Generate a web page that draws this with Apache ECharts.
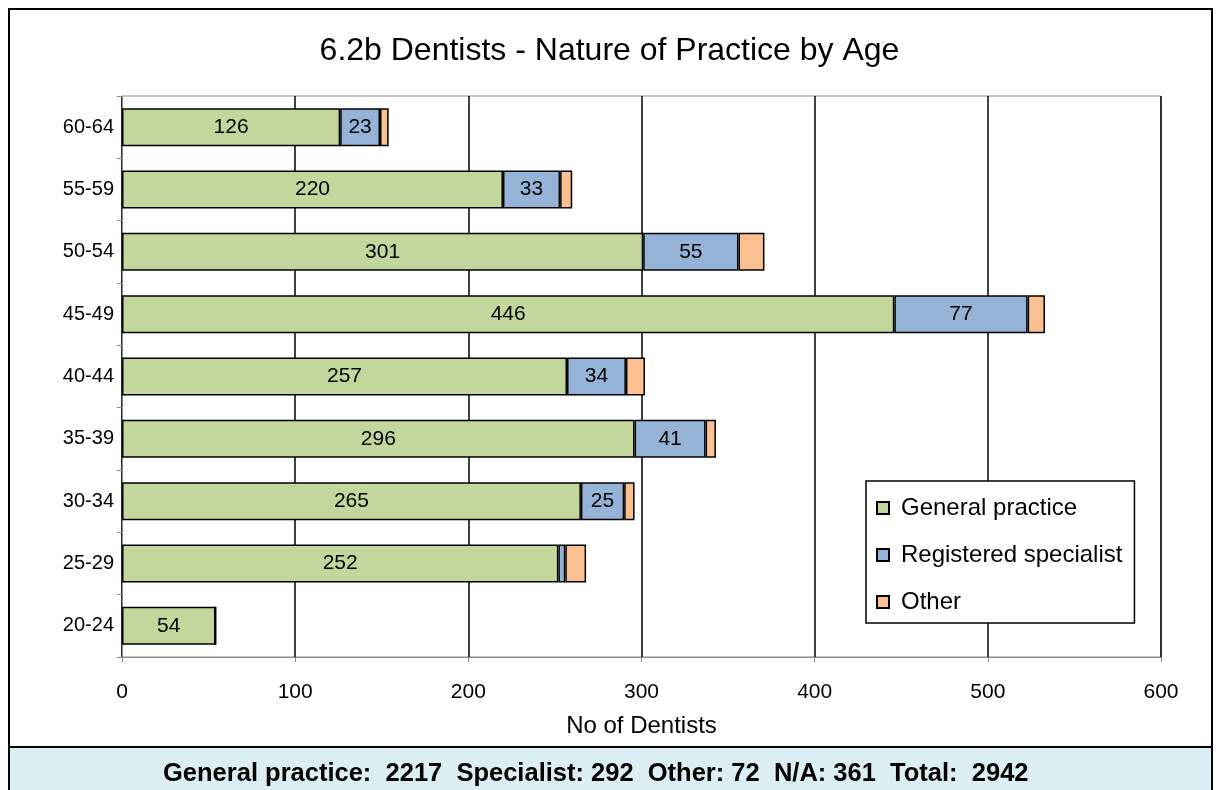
<!DOCTYPE html>
<html>
<head>
<meta charset="utf-8">
<script src="https://cdn.jsdelivr.net/npm/echarts@6/dist/echarts.min.js"></script>
<style>
    html, body { margin: 0; padding: 0; background: #fff; }
    #chart { width: 1219px; height: 790px; }
</style>
</head>
<body>
<div id="chart"></div>
<script>
// 年龄组 (bottom to top)
var ageGroups = ['20-24', '25-29', '30-34', '35-39', '40-44', '45-49', '50-54', '55-59', '60-64'];
var generalPractice = [54, 252, 265, 296, 257, 446, 301, 220, 126];
var specialist = [0, 4, 25, 41, 34, 77, 55, 33, 23];
var other = [0, 12, 6, 6, 11, 10, 15, 7, 5];
var xTicks = [0, 100, 200, 300, 400, 500, 600];
var footerText = 'General practice:  2217  Specialist: 292  Other: 72  N/A: 361  Total:  2942';

var font = '"Liberation Sans", Arial, sans-serif';

function barLabel(min) {
    return {
        show: true,
        position: 'inside',
        color: '#000',
        fontSize: 21,
        fontFamily: font,
        formatter: function (p) {
            return p.value >= min ? p.value : '';
        }
    };
}

var option = {
    animation: false,
    backgroundColor: '#fff',
    title: {
        text: '6.2b Dentists - Nature of Practice by Age',
        left: 'center',
        top: 30,
        textStyle: {
            fontFamily: font,
            fontSize: 32,
            fontWeight: 'normal',
            color: '#000'
        }
    },
    legend: {
        orient: 'vertical',
        left: 866,
        top: 481,
        padding: [15, 12, 9, 10],
        itemGap: 23,
        itemWidth: 12,
        itemHeight: 12,
        icon: 'rect',
        backgroundColor: '#fff',
        borderColor: '#000',
        borderWidth: 1.5,
        textStyle: { fontFamily: font, fontSize: 24, color: '#000', padding: [0, 0, 0, 7] },
        data: ['General practice', 'Registered specialist', 'Other']
    },
    grid: {
        left: 122,
        right: 58,
        top: 96,
        bottom: 133,
        show: true,
        borderColor: '#888',
        borderWidth: 1
    },
    xAxis: {
        type: 'value',
        min: 0,
        max: 600,
        interval: 100,
        name: 'No of Dentists',
        nameLocation: 'middle',
        nameGap: 57,
        nameTextStyle: { fontFamily: font, fontSize: 24, color: '#000' },
        axisLine: { show: true, lineStyle: { color: '#888', width: 1 } },
        axisTick: { show: true, length: 5, lineStyle: { color: '#888' } },
        axisLabel: {
            margin: 25,
            fontFamily: font,
            fontSize: 21,
            color: '#000',
            formatter: function (v) { return xTicks.indexOf(v) >= 0 ? v : ''; }
        },
        splitLine: { show: true, lineStyle: { color: '#000', width: 1.5 } }
    },
    yAxis: {
        type: 'category',
        data: ageGroups,
        axisLine: { show: true, lineStyle: { color: '#888', width: 1 } },
        axisTick: { show: true, length: 5, lineStyle: { color: '#888' } },
        axisLabel: { margin: 8, fontFamily: font, fontSize: 20, color: '#000' }
    },
    series: [
        {
            name: 'General practice',
            type: 'bar',
            stack: 'total',
            barWidth: 38,
            data: generalPractice,
            itemStyle: { color: '#c3d69b', borderColor: '#000', borderWidth: 1.5 },
            label: barLabel(20)
        },
        {
            name: 'Registered specialist',
            type: 'bar',
            stack: 'total',
            barWidth: 38,
            data: specialist,
            itemStyle: { color: '#95b3d7', borderColor: '#000', borderWidth: 1.5 },
            label: barLabel(15)
        },
        {
            name: 'Other',
            type: 'bar',
            stack: 'total',
            barWidth: 38,
            data: other,
            itemStyle: { color: '#fac090', borderColor: '#000', borderWidth: 1.5 }
        }
    ],
    graphic: [
        {
            type: 'rect',
            left: 8,
            top: 8,
            shape: { width: 1203, height: 800 },
            style: { fill: 'transparent', stroke: '#000', lineWidth: 2 },
            silent: true,
            z: 100
        },
        {
            type: 'rect',
            left: 8,
            top: 746,
            shape: { width: 1203, height: 60 },
            style: { fill: '#daeef3', stroke: '#000', lineWidth: 2 },
            silent: true,
            z: 100
        },
        {
            type: 'text',
            left: 163,
            top: 761,
            style: {
                text: footerText,
                fill: '#000',
                font: 'bold 25.5px ' + font
            },
            silent: true,
            z: 101
        }
    ]
};

var chart = echarts.init(document.getElementById('chart'));
chart.setOption(option);
</script>
</body>
</html>
